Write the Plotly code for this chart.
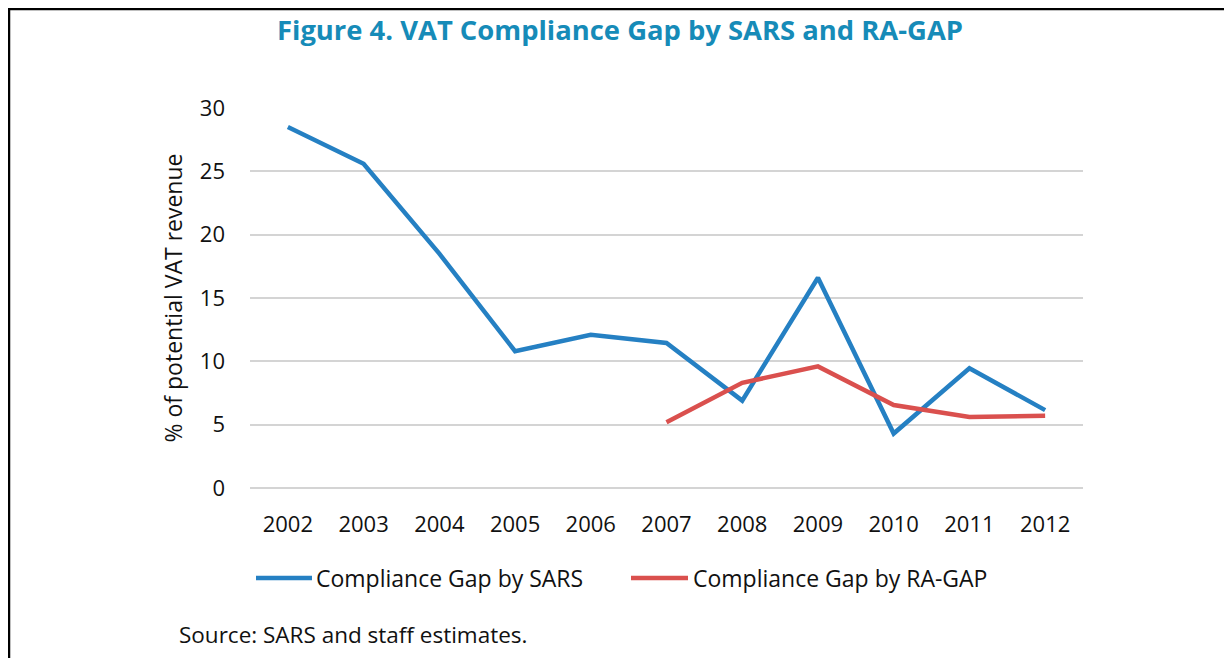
import plotly.graph_objects as go

years = ["2002", "2003", "2004", "2005", "2006", "2007", "2008", "2009", "2010", "2011", "2012"]
sars_gap = [28.5, 25.6, 18.5, 10.8, 12.1, 11.45, 6.9, 16.6, 4.3, 9.45, 6.15]
ragap_years = ["2007", "2008", "2009", "2010", "2011", "2012"]
ragap_gap = [5.2, 8.3, 9.6, 6.55, 5.6, 5.7]
y_ticks = [0, 5, 10, 15, 20, 25, 30]
series_names = ["Compliance Gap by SARS", "Compliance Gap by RA-GAP"]

FONT = "Open Sans"
BLUE = "#2580C3"
RED = "#DA504E"
COLORS = [BLUE, RED]

fig = go.Figure()
fig.add_trace(go.Scatter(x=years, y=sars_gap, mode="lines", name=series_names[0],
                         line=dict(color=BLUE, width=4.5)))
fig.add_trace(go.Scatter(x=ragap_years, y=ragap_gap, mode="lines", name=series_names[1],
                         line=dict(color=RED, width=4.5)))

# page is shown with an 8px body margin; layout coordinates below are viewport pixels
OFF = 8
L, R, T, B = 250, 1083, 108, 488
W, H = 1232, 658
pw, ph = R - L, B - T

def px(x):
    return (x - L) / pw

def py(y):
    return (B - y) / ph

shapes = [
    dict(type="line", xref="paper", yref="paper", x0=px(9), x1=px(9), y0=py(8), y1=py(700),
         line=dict(color="black", width=2.5)),
    dict(type="line", xref="paper", yref="paper", x0=px(8), x1=px(1260), y0=py(9), y1=py(9),
         line=dict(color="black", width=2.5)),
]
annotations = [
    dict(text="Source: SARS and staff estimates.", xref="paper", yref="paper",
         x=px(177), y=py(634), xanchor="left", yanchor="middle", showarrow=False,
         font=dict(family=FONT, size=22.5, color="#111111")),
]
leg_x = [(256, 312, 314), (631, 688, 691)]
for (x0, x1, tx), name, col in zip(leg_x, series_names, COLORS):
    shapes.append(dict(type="line", xref="paper", yref="paper", x0=px(x0), x1=px(x1),
                       y0=py(578), y1=py(578), line=dict(color=col, width=4.5)))
    annotations.append(dict(text=name, xref="paper", yref="paper", x=px(tx), y=py(578),
                            xanchor="left", yanchor="middle", showarrow=False,
                            font=dict(family=FONT, size=23, color="#111111")))

fig.update_layout(
    width=W, height=H,
    margin=dict(l=L - OFF, r=W - R + OFF, t=T - OFF, b=H - B + OFF),
    paper_bgcolor="white", plot_bgcolor="white",
    font=dict(family=FONT, size=22, color="#111111"),
    title=dict(text="<b>Figure 4. VAT Compliance Gap by SARS and RA-GAP</b>",
               x=(620 - OFF) / W, xanchor="center", y=1 - (30 - OFF) / H, yanchor="middle",
               font=dict(family=FONT, size=27.4, color="#168BB8")),
    showlegend=False,
    xaxis=dict(type="category", categoryorder="array", categoryarray=years,
               range=[-0.5, len(years) - 0.5], showgrid=False, showline=False,
               ticks="", ticklabelstandoff=21, tickfont=dict(size=22)),
    yaxis=dict(range=[0, 30], tickvals=y_ticks, showgrid=True, gridcolor="#D4D4D4",
               gridwidth=1.5, zeroline=True, zerolinecolor="#D4D4D4", zerolinewidth=1.5,
               showline=False, ticks="", ticklabelstandoff=24, tickfont=dict(size=22),
               title=dict(text="% of potential VAT revenue", standoff=10, font=dict(size=23))),
    shapes=shapes,
    annotations=annotations,
)

fig.write_html("out.html")
